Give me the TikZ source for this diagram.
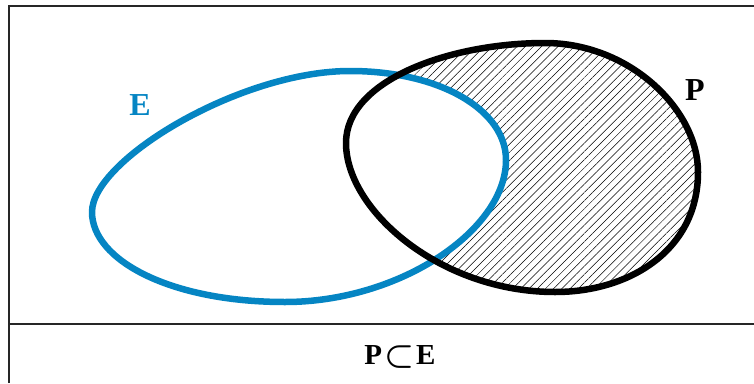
\documentclass[tikz,border=0pt]{standalone}
\usepackage{fontspec}
\setmainfont{Liberation Serif}
\usetikzlibrary{patterns.meta}
\definecolor{setblue}{RGB}{5,133,195}

\begin{document}
\begin{tikzpicture}[x=1pt,y=-1pt,
  frame/.style={line width=2.2pt,black!85},
  setline/.style={line width=6.5pt,line join=round},
  setname/.style={font=\fontsize{32}{32}\selectfont\bfseries}]
\useasboundingbox (0,0) rectangle (754,383);
% frame
\draw[frame] (9,383)--(9,6)--(754,6);
\draw[frame,line width=1.8pt] (9,324)--(754,324);
% the two sets
\def\setE{(92,212) .. controls (92,160) and (240,71) .. (350,71)
  .. controls (440,71) and (506,110) .. (506,160)
  .. controls (506,230) and (400,302) .. (285,302)
  .. controls (170,302) and (92,260) .. cycle}
\def\setP{(346,143) .. controls (346,80) and (450,43) .. (545,43)
  .. controls (630,43) and (698,110) .. (698,172)
  .. controls (698,250) and (630,292) .. (555,292)
  .. controls (440,292) and (346,210) .. cycle}
\begin{scope}
\clip \setP;
\fill[pattern={Lines[angle=45,distance=5.8pt,line width=0.5pt]}] \setP;
\fill[white] \setE;
\end{scope}
\draw[setline,setblue] \setE;
\draw[setline,black] \setP;
% labels
\node[setname,text=setblue] (nameE) at (140,105) {E};
\node[setname] (nameP) at (695,90) {P};
\node[font=\fontsize{29}{29}\selectfont\bfseries\boldmath] (rel) at (400,357) {P\kern2pt\raisebox{-0.5pt}{\scalebox{1.35}{$\subset$}}\kern2pt E};
\end{tikzpicture}
\end{document}
